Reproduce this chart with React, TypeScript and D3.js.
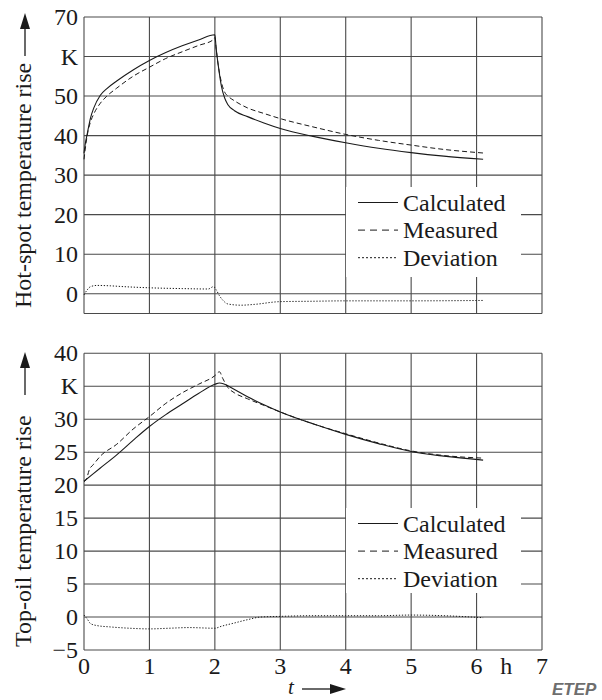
import * as React from "react";
import * as d3 from "d3";

// time axis (h)
const tTicks = [0, 1, 2, 3, 4, 5, 6, 7];

// Hot-spot temperature rise (K)
const hotCalc: [number, number][] = [
  [0, 35.5], [0.02, 38], [0.05, 40.5], [0.1, 44.5], [0.15, 47], [0.25, 50.2], [0.35, 51.9],
  [0.5, 53.8], [0.75, 56.6], [1.0, 59], [1.25, 61], [1.5, 62.7], [1.75, 64.2], [2.0, 65.5],
  [2.02, 62], [2.05, 58], [2.1, 52.5], [2.15, 49.5], [2.2, 47.8], [2.3, 46.3], [2.5, 44.8],
  [2.75, 43.2], [3.0, 41.8], [3.5, 39.8], [4.0, 38.2], [4.5, 36.8], [5.0, 35.7], [5.5, 34.8], [6.1, 34.0],
];
const hotMeas: [number, number][] = [
  [0, 34], [0.03, 38], [0.06, 41], [0.1, 43.5], [0.15, 45.5], [0.25, 48.2], [0.35, 50],
  [0.5, 52], [0.75, 55], [1.0, 57.3], [1.25, 59.5], [1.5, 61.2], [1.75, 62.8], [1.98, 64.3],
  [2.0, 64.8], [2.02, 62], [2.05, 58], [2.1, 53.5], [2.15, 51], [2.2, 50], [2.3, 48.8], [2.5, 47],
  [2.75, 45.6], [3.0, 44.3], [3.5, 42.2], [4.0, 40.3], [4.5, 38.8], [5.0, 37.6], [5.5, 36.5], [6.1, 35.6],
];
const hotDev: [number, number][] = [
  [0, -0.3], [0.05, 1], [0.1, 1.8], [0.2, 2.1], [0.4, 2.0], [0.6, 1.8], [1.0, 1.5], [1.5, 1.3],
  [1.9, 1.2], [1.98, 1.8], [2.02, 1], [2.07, -0.5], [2.12, -1.6], [2.2, -2.6], [2.4, -2.9],
  [2.6, -2.7], [3.0, -2.0], [3.5, -1.9], [4.0, -1.8], [5.0, -1.8], [6.1, -1.7],
];

// Top-oil temperature rise (K)
const oilCalc: [number, number][] = [
  [0, 20.6], [0.25, 22.6], [0.5, 24.6], [0.75, 26.8], [1.0, 28.9], [1.25, 30.7], [1.5, 32.3],
  [1.75, 33.9], [2.0, 35.3], [2.07, 35.5], [2.15, 35.3], [2.3, 34.5], [2.5, 33.4], [2.75, 32.2],
  [3.0, 31.1], [3.5, 29.3], [4.0, 27.7], [4.5, 26.3], [5.0, 25.1], [5.5, 24.4], [6.1, 23.8],
];
const oilMeas: [number, number][] = [
  [0, 20.5], [0.04, 21], [0.08, 22.3], [0.15, 23.2], [0.25, 24.4], [0.5, 26.2], [0.75, 28.5],
  [1.0, 30.4], [1.25, 32.4], [1.5, 34.0], [1.75, 35.3], [2.0, 36.6], [2.07, 37.2], [2.12, 36.2],
  [2.2, 34.8], [2.3, 34], [2.5, 33.1], [2.75, 32.1], [3.0, 31.1], [3.5, 29.3], [4.0, 27.8],
  [4.5, 26.4], [5.0, 25.2], [5.5, 24.5], [6.1, 24.1],
];
const oilDev: [number, number][] = [
  [0, 0.3], [0.05, -0.3], [0.1, -1.0], [0.2, -1.3], [0.4, -1.5], [0.7, -1.7], [1.0, -1.8],
  [1.3, -1.7], [1.6, -1.6], [2.0, -1.7], [2.1, -1.4], [2.3, -0.9], [2.5, -0.4], [2.7, 0],
  [3.0, 0.1], [3.5, 0.2], [4.0, 0.2], [4.5, 0.2], [5.0, 0.3], [5.5, 0.2], [6.1, -0.1],
];

const hotTicks = [0, 10, 20, 30, 40, 50, 60, 70];
const oilTicks = [-5, 0, 5, 10, 15, 20, 25, 30, 35, 40];
const legendItems = ["Calculated", "Measured", "Deviation"];

const FONT = "'Liberation Serif', 'Times New Roman', serif";
const GRID = "#4a4a4a";
const INK = "#1a1a1a";
const dashes = ["none", "5 3", "1.3 1.7"];
const legendDashes = ["none", "7 5", "2 2"];

const xLeft = 84;
const xRight = 542;

type Panel = {
  top: number;
  bottom: number;
  domain: [number, number];
  ticks: number[];
  unitTick: number;
  series: [number, number][][];
  label: string;
  labelStart: number;
  legend: { x0: number; x1: number; y0: number; y1: number; base: number };
  xLabels: boolean;
};

const panels: Panel[] = [
  {
    top: 17, bottom: 313.5, domain: [-5, 70], ticks: hotTicks, unitTick: 60,
    series: [hotCalc, hotMeas, hotDev], label: "Hot-spot temperature rise", labelStart: 308,
    legend: { x0: 346, x1: 521, y0: 187, y1: 277, base: 210.5 }, xLabels: false,
  },
  {
    top: 353.3, bottom: 650, domain: [-5, 40], ticks: oilTicks, unitTick: 35,
    series: [oilCalc, oilMeas, oilDev], label: "Top-oil temperature rise", labelStart: 647,
    legend: { x0: 346, x1: 521, y0: 508, y1: 593, base: 531.5 }, xLabels: true,
  },
];

const x = d3.scaleLinear().domain([0, 7]).range([xLeft, xRight]);

const ChartPanel = ({ p }: { p: Panel }) => {
  const y = d3.scaleLinear().domain(p.domain).range([p.bottom, p.top]);
  const line = d3
    .line<[number, number]>()
    .x((d) => x(d[0]))
    .y((d) => y(d[1]))
    .curve(d3.curveMonotoneX);
  // grid at every tick plus the frame edges
  const gridY = Array.from(new Set([p.domain[0], ...p.ticks, p.domain[1]]));
  const labelEnd = p.labelStart - 243;
  return (
    <g>
      {gridY.map((v) => (
        <line key={"gy" + v} x1={xLeft} x2={xRight} y1={y(v)} y2={y(v)} stroke={GRID} strokeWidth={1.1} />
      ))}
      {tTicks.map((v) => (
        <line key={"gx" + v} x1={x(v)} x2={x(v)} y1={p.top} y2={p.bottom} stroke={GRID} strokeWidth={1.1} />
      ))}

      {/* legend box blanks the grid behind it */}
      <rect
        x={p.legend.x0}
        y={p.legend.y0}
        width={p.legend.x1 - p.legend.x0}
        height={p.legend.y1 - p.legend.y0}
        fill="#fff"
      />
      {legendItems.map((name, i) => {
        const by = p.legend.base + i * 27.6;
        return (
          <g key={name}>
            <line
              x1={358}
              x2={398}
              y1={by - 8}
              y2={by - 8}
              stroke={INK}
              strokeWidth={1}
              strokeDasharray={legendDashes[i] === "none" ? undefined : legendDashes[i]}
            />
            <text x={403} y={by} fontFamily={FONT} fontSize={24} fill={INK}>{name}</text>
          </g>
        );
      })}

      {p.series.map((s, i) => (
        <path
          key={"s" + i}
          d={line(s) ?? ""}
          fill="none"
          stroke={INK}
          strokeWidth={i === 0 ? 1.1 : 1}
          strokeDasharray={dashes[i] === "none" ? undefined : dashes[i]}
        />
      ))}

      {p.ticks.map((v) => (
        <text key={"ty" + v} x={78} y={y(v)} dy="0.34em" textAnchor="end" fontFamily={FONT} fontSize={24} fill={INK}>
          {v === p.unitTick ? "K" : v < 0 ? "\u2212" + Math.abs(v) : v}
        </text>
      ))}

      {/* y label with arrow */}
      <text
        transform={`translate(30.5, ${p.labelStart}) rotate(-90)`}
        fontFamily={FONT}
        fontSize={24}
        fill={INK}
      >
        {p.label}
      </text>
      <line x1={25} x2={25} y1={labelEnd - 9} y2={labelEnd - 37} stroke={INK} strokeWidth={1.3} />
      <path d={`M20,${labelEnd - 36} L30,${labelEnd - 36} L25,${labelEnd - 52} Z`} fill={INK} />

      {p.xLabels && (
        <g>
          {tTicks.map((v) => (
            <text key={"tx" + v} x={x(v)} y={674} textAnchor="middle" fontFamily={FONT} fontSize={24} fill={INK}>
              {v}
            </text>
          ))}
          <text x={(x(6) + x(7)) / 2 - 3} y={674} textAnchor="middle" fontFamily={FONT} fontSize={24} fill={INK}>h</text>
          <text x={291} y={694} textAnchor="middle" fontFamily={FONT} fontSize={21} fontStyle="italic" fill={INK}>t</text>
          <line x1={302} x2={332} y1={689} y2={689} stroke={INK} strokeWidth={1.3} />
          <path d="M330,684 L330,694 L346,689 Z" fill={INK} />
        </g>
      )}
    </g>
  );
};

export default function App() {
  return (
    <svg
      width={602}
      height={700}
      viewBox="0 0 602 700"
      style={{ position: "absolute", left: 0, top: 0, background: "#fff" }}
    >
      <rect width={602} height={700} fill="#fff" />
      {panels.map((p, i) => (
        <ChartPanel key={i} p={p} />
      ))}
      <text
        x={552}
        y={695}
        fontFamily="'Liberation Sans', Arial, sans-serif"
        fontSize={17}
        fontWeight="bold"
        fontStyle="italic"
        fill="#6e6e6e"
      >
        ETEP
      </text>
    </svg>
  );
}
